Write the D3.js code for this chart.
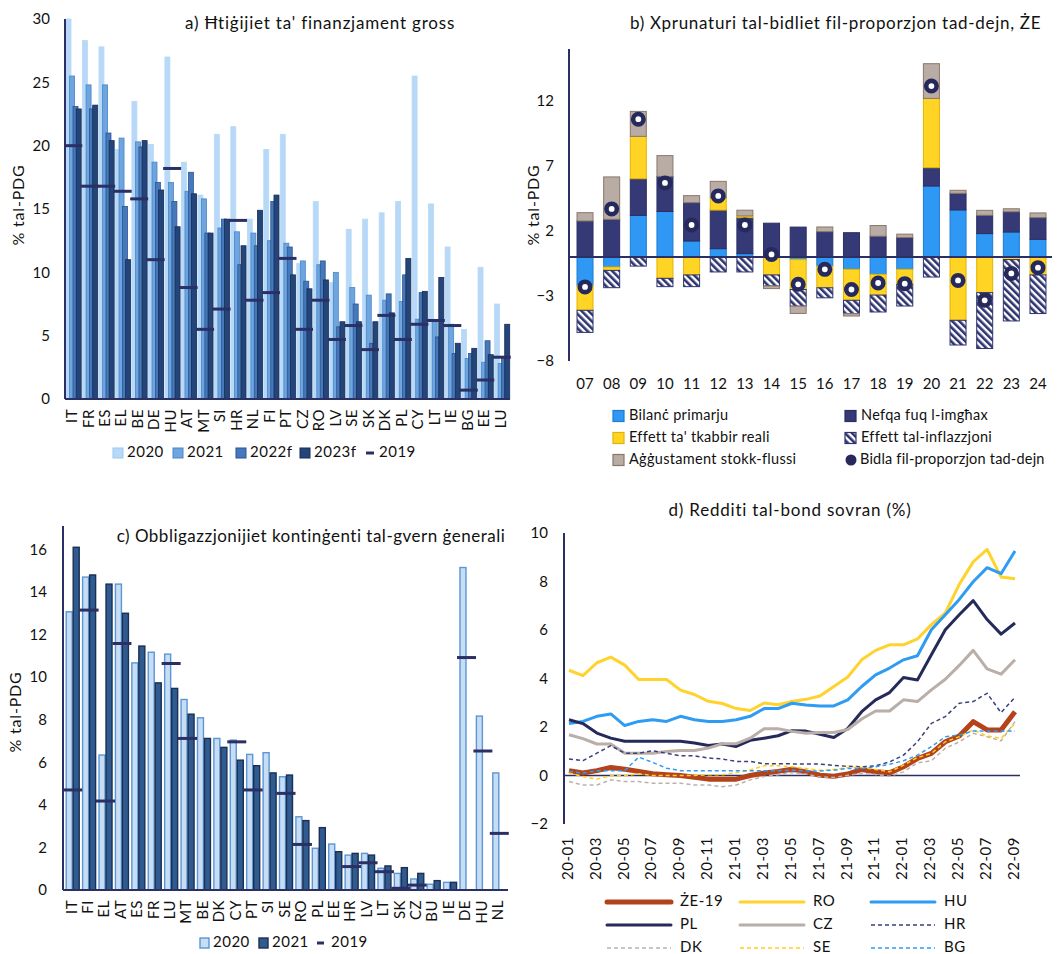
<!DOCTYPE html>
<html>
<head>
<meta charset="utf-8">
<script src="https://cdn.jsdelivr.net/npm/d3@7"></script>
<style>
body { margin: 0; background: #fff; }
svg { display: block; font-family: Lato, "Open Sans", sans-serif; }
</style>
</head>
<body>
<svg id="viz" width="1058" height="954"></svg>
<script>
// ---------- data: panel a (gross financing needs, % GDP) ----------
const aCountries = ['IT','FR','ES','EL','BE','DE','HU','AT','MT','SI','HR','NL','FI','PT','CZ','RO','LV','SE','SK','DK','PL','CY','LT','IE','BG','EE','LU']
const a2020  = [30.0,28.3,27.8,19.7,23.5,20.1,27.0,18.7,16.1,20.9,21.5,14.2,19.7,20.9,10.7,15.6,9.2,13.4,14.2,14.7,15.6,25.5,15.4,12.0,5.5,10.4,7.5]
const a2021  = [25.5,24.8,24.8,20.6,20.3,18.7,17.1,16.4,15.8,13.5,13.2,13.1,12.5,12.3,10.9,10.6,10.0,8.8,8.2,7.8,7.7,6.3,6.1,5.9,3.2,2.9,2.8]
const a2022f = [23.1,22.9,21.0,15.2,19.9,17.1,15.6,17.9,13.1,14.2,10.6,12.1,15.6,12.0,9.3,10.9,5.7,7.5,4.4,8.3,9.8,8.4,4.9,3.6,3.6,4.6,3.2]
const a2023f = [22.9,23.2,20.4,11.0,20.4,16.5,13.6,16.2,13.1,14.2,12.1,14.9,16.1,9.8,8.7,9.4,6.1,6.1,6.1,6.8,11.1,8.5,9.6,4.4,4.0,3.5,5.9]
const a2019  = [20.0,16.8,16.8,16.4,15.8,11.0,18.2,8.8,5.5,7.1,14.1,7.8,8.4,11.1,5.5,7.8,4.7,5.8,3.9,6.6,4.7,5.9,6.2,5.8,0.7,1.5,3.3]
const aTicks = [0,5,10,15,20,25,30]

// ---------- data: panel b (drivers of debt ratio change, EU) ----------
const bYears     = ['07','08','09','10','11','12','13','14','15','16','17','18','19','20','21','22','23','24']
const bPrimary   = [-2.2,-0.77,3.2,3.5,1.23,0.64,0.26,0,-0.2,-0.7,-0.95,-1.33,-0.95,5.46,3.62,1.8,1.92,1.36]
const bInterest  = [2.77,2.9,2.82,2.7,2.95,2.97,2.77,2.6,2.3,1.95,1.87,1.6,1.5,1.41,1.28,1.41,1.56,1.67]
const bGrowth    = [-1.9,-0.26,3.26,-1.64,-1.38,0.95,0.13,-1.38,-2.3,-1.67,-2.38,-1.6,-1.15,5.33,-4.87,-2.74,-0.2,-1.38]
const bInflation = [-1.7,-1.33,-0.7,-0.64,-0.9,-1.15,-1.15,-0.85,-1.28,-0.77,-1.03,-1.3,-1.67,-1.54,-1.9,-4.3,-4.72,-2.97]
const bSfa       = [0.64,3.26,1.92,1.6,0.54,1.26,0.44,-0.2,-0.56,0.36,-0.18,0.82,0.26,2.67,0.23,0.38,0.23,0.36]
const bChange    = [-2.3,3.7,10.6,5.7,2.46,4.7,2.46,0.2,-2.1,-0.95,-2.5,-2.0,-2.05,13.15,-1.8,-3.33,-1.26,-0.82]
const bTicks = [-8,-3,2,7,12]

// ---------- data: panel c (contingent liabilities, % GDP) ----------
const cCountries = ['IT','FI','EL','AT','ES','FR','LU','MT','BE','DK','CY','PT','SI','SE','RO','PL','EE','HR','LV','LT','SK','CZ','BU','IE','DE','HU','NL']
const c2020 = [13.07,14.7,6.34,14.37,10.67,11.17,11.08,8.95,8.09,7.12,7.04,6.37,6.45,5.32,3.44,1.96,2.16,1.64,1.72,1.02,0.78,0.52,0.27,0.36,15.15,8.17,5.5]
const c2021 = [16.1,14.8,14.37,13.0,11.46,9.73,9.47,8.26,7.12,6.7,6.1,5.84,5.5,5.4,3.26,2.93,1.8,1.72,1.64,1.13,1.05,0.78,0.44,0.36,null,null,null]
const c2019 = [4.7,13.15,4.18,11.58,null,null,10.64,7.12,null,null,6.96,4.7,null,4.54,2.14,null,null,1.1,1.28,0.86,0.08,0.23,null,null,10.92,6.53,2.66]
const cTicks = [0,2,4,6,8,10,12,14,16]

// ---------- data: panel d (sovereign bond yields, %) ----------
const dMonths = ['20-01','20-02','20-03','20-04','20-05','20-06','20-07','20-08','20-09','20-10','20-11','20-12',
                 '21-01','21-02','21-03','21-04','21-05','21-06','21-07','21-08','21-09','21-10','21-11','21-12',
                 '22-01','22-02','22-03','22-04','22-05','22-06','22-07','22-08','22-09']
const dEU = [0.2,0.1,0.2,0.33,0.26,0.17,0.07,0.03,0,-0.07,-0.15,-0.15,-0.15,0,0.1,0.17,0.26,0.15,0.01,-0.03,0.06,0.25,0.15,0.11,0.36,0.7,0.91,1.39,1.63,2.22,1.88,1.88,2.63]
const dRO = [4.34,4.12,4.65,4.88,4.55,3.96,3.96,3.96,3.52,3.34,3.06,2.97,2.76,2.68,2.99,2.92,3.05,3.14,3.28,3.67,4.06,4.77,5.16,5.39,5.39,5.63,6.22,6.7,7.88,8.81,9.32,8.19,8.11]
const dHU = [2.14,2.23,2.44,2.54,2.06,2.23,2.3,2.23,2.44,2.3,2.23,2.23,2.3,2.44,2.76,2.76,2.98,2.91,2.87,2.87,3.12,3.67,4.15,4.43,4.77,4.94,6.01,6.63,7.26,7.99,8.57,8.32,9.26]
const dPL = [2.3,2.14,1.75,1.54,1.41,1.41,1.41,1.41,1.41,1.34,1.24,1.3,1.2,1.45,1.54,1.64,1.85,1.83,1.7,1.57,1.94,2.63,3.12,3.42,4.04,3.94,4.98,6.01,6.63,7.21,6.43,5.83,6.29]
const dCZ = [1.68,1.52,1.3,1.3,0.92,0.92,0.92,0.99,1.03,1.03,1.13,1.31,1.31,1.54,1.93,1.93,1.82,1.74,1.77,1.77,1.9,2.33,2.66,2.66,3.12,3.05,3.53,3.97,4.54,5.16,4.4,4.18,4.77]
const dHR = [0.68,0.61,0.92,1.23,0.92,0.92,1.02,0.92,0.81,0.81,0.72,0.68,0.58,0.58,0.48,0.48,0.48,0.47,0.47,0.42,0.38,0.36,0.4,0.56,0.84,1.39,2.15,2.43,2.98,3.05,3.39,2.59,3.23]
const dDK = [-0.25,-0.39,-0.39,-0.18,-0.25,-0.25,-0.32,-0.32,-0.32,-0.39,-0.39,-0.46,-0.39,-0.18,-0.04,0.03,0.12,0.06,-0.06,-0.08,0.01,0.08,0.04,-0.03,0.15,0.52,0.61,1.12,1.39,1.74,1.6,1.43,2.22]
const dSE = [0.1,-0.04,-0.15,-0.01,-0.01,0.07,0,0,0,0,0.03,0.03,0.12,0.23,0.4,0.4,0.36,0.29,0.22,0.25,0.33,0.33,0.25,0.15,0.43,0.74,0.91,1.39,1.6,1.88,1.63,1.53,2.15]
const dBG = [0.17,0.1,0.2,0.2,0.2,0.76,0.54,0.3,0.2,0.2,0.2,0.2,0.2,0.2,0.2,0.2,0.22,0.19,0.19,0.22,0.29,0.29,0.36,0.46,0.61,0.84,1.19,1.6,1.67,1.83,1.83,1.83,1.83]
const dTicks = [-2,0,2,4,6,8,10]
const dTickMonths = dMonths.filter((m, i) => i % 2 == 0)

const NAVY = '#2b2f63'
const FS = 15
const LS = 0.5

var svg = d3.select('svg#viz')

// hatch pattern for the inflation effect
svg.append('defs').append('pattern')
    .attr('id', 'hatch')
    .attr('patternUnits', 'userSpaceOnUse')
    .attr('width', 5).attr('height', 5)
    .attr('patternTransform', 'rotate(-45)')
    .call(p => {
        p.append('rect').attr('width', 5).attr('height', 5).attr('fill', '#fff')
        p.append('rect').attr('width', 2.6).attr('height', 5).attr('fill', '#2e3470')
    })

let leftAxis = function(g, scale, x, ticks, pad) {
    g.append('g')
        .attr('transform', `translate(${x},0)`)
        .call(d3.axisLeft(scale).tickValues(ticks).tickSize(0).tickPadding(pad))
        .call(a => a.select('.domain').remove())
        .selectAll('text')
        .attr('font-size', FS).attr('font-family', 'Lato, sans-serif').attr('fill', '#111')
}

let title = function(x, y, txt, anchor, ls) {
    svg.append('text').attr('x', x).attr('y', y)
        .attr('text-anchor', anchor || 'middle').attr('dominant-baseline', 'middle')
        .attr('font-size', 17).attr('letter-spacing', ls == null ? 0.8 : ls).attr('fill', '#111').text(txt)
}

let yLabel = function(x, y, txt) {
    svg.append('text').attr('transform', `translate(${x},${y}) rotate(-90)`)
        .attr('text-anchor', 'middle').attr('dominant-baseline', 'middle')
        .attr('font-size', 16).attr('letter-spacing', 0.8).attr('fill', '#111').text(txt)
}

let label = function(g, x, y, txt, fs, ls) {
    g.append('text').attr('x', x).attr('y', y).attr('dominant-baseline', 'middle')
        .attr('font-size', fs || FS).attr('letter-spacing', ls == null ? LS : ls).attr('fill', '#111').text(txt)
}

// ================= panel a =================
{
    const x = d3.scaleBand().domain(aCountries).range([65, 510])
    const y = d3.scaleLinear().domain([0, 30]).range([399, 19])
    const g = svg.append('g')
    const series = [
        { key: '2020',  vals: a2020,  fill: '#b7d9f7', stroke: '#b7d9f7', off: 1.0 },
        { key: '2021',  vals: a2021,  fill: '#6ea5df', stroke: '#4a86c8', off: 4.6 },
        { key: '2022f', vals: a2022f, fill: '#4679bb', stroke: '#2b5590', off: 8.0 },
        { key: '2023f', vals: a2023f, fill: '#23457a', stroke: '#172d55', off: 11.2 }
    ]
    series.forEach(s => {
        g.append('g').selectAll('rect')
            .data(aCountries)
            .join('rect')
            .attr('x', (d) => x(d) + s.off)
            .attr('y', (d, i) => y(s.vals[i]))
            .attr('width', 5)
            .attr('height', (d, i) => y(0) - y(s.vals[i]))
            .attr('fill', s.fill)
            .attr('stroke', s.stroke)
            .attr('stroke-width', 0.8)
    })
    g.append('g').selectAll('line')
        .data(aCountries)
        .join('line')
        .attr('x1', d => x(d) + x.bandwidth() / 2 - 9)
        .attr('x2', d => x(d) + x.bandwidth() / 2 + 9)
        .attr('y1', (d, i) => y(a2019[i]))
        .attr('y2', (d, i) => y(a2019[i]))
        .attr('stroke', NAVY).attr('stroke-width', 3)

    g.append('line').attr('x1', 65).attr('x2', 65).attr('y1', y(30)).attr('y2', y(0)).attr('stroke', NAVY).attr('stroke-width', 2)
    g.append('line').attr('x1', 65).attr('x2', 510).attr('y1', y(0)).attr('y2', y(0)).attr('stroke', NAVY).attr('stroke-width', 2)
    leftAxis(g, y, 65, aTicks, 15)

    g.append('g').selectAll('text')
        .data(aCountries)
        .join('text')
        .attr('transform', d => `translate(${x(d) + x.bandwidth() / 2},409) rotate(-90)`)
        .attr('text-anchor', 'end').attr('dominant-baseline', 'middle')
        .attr('font-size', FS).attr('letter-spacing', LS).attr('fill', '#111')
        .text(d => d)

    title(320, 25, 'a) Ħtiġijiet ta\' finanzjament gross')
    yLabel(20, 205, '% tal-PDG')

    // legend
    const lx = [113, 173, 236, 300]
    series.forEach((s, i) => {
        g.append('rect').attr('x', lx[i]).attr('y', 448).attr('width', 10).attr('height', 10)
            .attr('fill', s.fill).attr('stroke', s.key == '2020' ? '#9cc9f0' : s.stroke)
        label(g, lx[i] + 14, 453, s.key)
    })
    g.append('line').attr('x1', 366).attr('x2', 374).attr('y1', 453).attr('y2', 453).attr('stroke', NAVY).attr('stroke-width', 3)
    label(g, 379, 453, '2019')
}

// ================= panel b =================
{
    const x = d3.scaleBand().domain(bYears).range([571.7, 1051.3])
    const y = d3.scaleLinear().domain([-8, 16]).range([361, 49])
    const g = svg.append('g')
    const comps = [
        { key: 'primary',   vals: bPrimary,   fill: '#2f98f4', stroke: '#1c7bd2', label: 'Bilanċ primarju' },
        { key: 'interest',  vals: bInterest,  fill: '#353a76', stroke: '#2a2e62', label: 'Nefqa fuq l-imgħax' },
        { key: 'growth',    vals: bGrowth,    fill: '#ffd425', stroke: '#e2b400', label: 'Effett ta\' tkabbir reali' },
        { key: 'inflation', vals: bInflation, fill: 'url(#hatch)', stroke: '#2e3470', label: 'Effett tal-inflazzjoni' },
        { key: 'sfa',       vals: bSfa,       fill: '#b8aca4', stroke: '#8a776b', label: 'Aġġustament stokk-flussi' }
    ]
    const table = bYears.map((yr, i) => {
        let row = { year: yr }
        comps.forEach(c => row[c.key] = c.vals[i])
        return row
    })
    const stack = d3.stack().keys(comps.map(c => c.key)).offset(d3.stackOffsetDiverging)(table)
    const bw = 16
    stack.forEach((layer, li) => {
        g.append('g').selectAll('rect')
            .data(layer)
            .join('rect')
            .attr('x', d => x(d.data.year) + (x.bandwidth() - bw) / 2)
            .attr('y', d => y(Math.max(d[0], d[1])))
            .attr('width', bw)
            .attr('height', d => Math.abs(y(d[0]) - y(d[1])))
            .attr('fill', comps[li].fill)
            .attr('stroke', d => d[0] == d[1] ? 'none' : comps[li].stroke)
            .attr('stroke-width', 1)
    })
    g.append('line').attr('x1', 569).attr('x2', 1052).attr('y1', y(0)).attr('y2', y(0)).attr('stroke', NAVY).attr('stroke-width', 2)
    g.append('line').attr('x1', 569).attr('x2', 569).attr('y1', y(16)).attr('y2', y(-8)).attr('stroke', NAVY).attr('stroke-width', 2)

    g.append('g').selectAll('circle')
        .data(bYears)
        .join('circle')
        .attr('cx', d => x(d) + x.bandwidth() / 2)
        .attr('cy', (d, i) => y(bChange[i]))
        .attr('r', 5.2)
        .attr('fill', '#fff')
        .attr('stroke', '#25295c').attr('stroke-width', 4.6)

    leftAxis(g, y, 569, bTicks, 15)
    g.append('g').selectAll('text')
        .data(bYears)
        .join('text')
        .attr('x', d => x(d) + x.bandwidth() / 2)
        .attr('y', 385)
        .attr('text-anchor', 'middle').attr('dominant-baseline', 'middle')
        .attr('font-size', FS).attr('fill', '#111')
        .text(d => d)

    title(630, 25, 'b) Xprunaturi tal-bidliet fil-proporzjon tad-dejn, ŻE', 'start', 0.7)
    yLabel(535, 205, '% tal-PDG')

    // legend
    const pos = [[613, 416], [845, 416], [613, 438], [845, 438], [613, 460]]
    comps.forEach((c, i) => {
        const [lx, ly] = pos[i]
        g.append('rect').attr('x', lx).attr('y', ly - 5.5).attr('width', 11).attr('height', 11)
            .attr('fill', c.fill).attr('stroke', c.stroke).attr('stroke-width', 1.2)
        label(g, lx + 16, ly, c.label, 14.5, 0.3)
    })
    g.append('circle').attr('cx', 851).attr('cy', 460).attr('r', 5.5).attr('fill', '#25295c')
    label(g, 860, 460, 'Bidla fil-proporzjon tad-dejn', 14.5, 0.2)
}

// ================= panel c =================
{
    const x = d3.scaleBand().domain(cCountries).range([64.5, 507.5])
    const y = d3.scaleLinear().domain([0, 17.1]).range([890, 526])
    const g = svg.append('g')
    const bw = 6
    g.append('g').selectAll('rect')
        .data(cCountries)
        .join('rect')
        .attr('x', d => x(d) + x.bandwidth() / 2 - bw - 0.5)
        .attr('y', (d, i) => y(c2020[i]))
        .attr('width', bw)
        .attr('height', (d, i) => y(0) - y(c2020[i]))
        .attr('fill', '#c7ddf3').attr('stroke', '#5b96d6').attr('stroke-width', 1.4)
    g.append('g').selectAll('rect')
        .data(cCountries.filter((d, i) => c2021[i] != null))
        .join('rect')
        .attr('x', d => x(d) + x.bandwidth() / 2 + 0.5)
        .attr('y', d => y(c2021[cCountries.indexOf(d)]))
        .attr('width', bw)
        .attr('height', d => y(0) - y(c2021[cCountries.indexOf(d)]))
        .attr('fill', '#2f5b90').attr('stroke', '#1b2f52').attr('stroke-width', 1.4)
    g.append('g').selectAll('line')
        .data(cCountries.filter((d, i) => c2019[i] != null))
        .join('line')
        .attr('x1', d => x(d) + x.bandwidth() / 2 - 9.5)
        .attr('x2', d => x(d) + x.bandwidth() / 2 + 9.5)
        .attr('y1', d => y(c2019[cCountries.indexOf(d)]))
        .attr('y2', d => y(c2019[cCountries.indexOf(d)]))
        .attr('stroke', NAVY).attr('stroke-width', 3)

    g.append('line').attr('x1', 63).attr('x2', 63).attr('y1', 526).attr('y2', y(0)).attr('stroke', NAVY).attr('stroke-width', 2)
    g.append('line').attr('x1', 63).attr('x2', 508).attr('y1', y(0)).attr('y2', y(0)).attr('stroke', NAVY).attr('stroke-width', 2)
    leftAxis(g, y, 63, cTicks, 16)

    g.append('g').selectAll('text')
        .data(cCountries)
        .join('text')
        .attr('transform', d => `translate(${x(d) + x.bandwidth() / 2},900) rotate(-90)`)
        .attr('text-anchor', 'end').attr('dominant-baseline', 'middle')
        .attr('font-size', FS).attr('letter-spacing', LS).attr('fill', '#111')
        .text(d => d)

    title(311, 538, 'c) Obbligazzjonijiet kontinġenti tal-gvern ġenerali', 'middle', 0.5)
    yLabel(17, 712, '% tal-PDG')

    g.append('rect').attr('x', 200).attr('y', 938).attr('width', 9).attr('height', 10).attr('fill', '#c7ddf3').attr('stroke', '#5b96d6').attr('stroke-width', 1.4)
    label(g, 213, 943, '2020')
    g.append('rect').attr('x', 259).attr('y', 938).attr('width', 9).attr('height', 10).attr('fill', '#2f5b90').attr('stroke', '#1b2f52').attr('stroke-width', 1.4)
    label(g, 272, 943, '2021')
    g.append('line').attr('x1', 317).attr('x2', 324).attr('y1', 943).attr('y2', 943).attr('stroke', NAVY).attr('stroke-width', 3)
    label(g, 331, 943, '2019')
}

// ================= panel d =================
{
    const x = d3.scalePoint().domain(dMonths).range([569, 1015])
    const y = d3.scaleLinear().domain([-2, 10]).range([824, 533])
    const g = svg.append('g')
    const lines = [
        { name: 'ŻE-19', vals: dEU, color: '#b4421a', w: 5,   dash: null },
        { name: 'RO',    vals: dRO, color: '#ffd22c', w: 3,   dash: null },
        { name: 'HU',    vals: dHU, color: '#2e9cf2', w: 3,   dash: null },
        { name: 'PL',    vals: dPL, color: '#262a5b', w: 3,   dash: null },
        { name: 'CZ',    vals: dCZ, color: '#b9aea8', w: 3,   dash: null },
        { name: 'HR',    vals: dHR, color: '#3a3f7c', w: 1.5, dash: '4,3' },
        { name: 'DK',    vals: dDK, color: '#bcb1aa', w: 1.5, dash: '4,3' },
        { name: 'SE',    vals: dSE, color: '#ffcf1e', w: 1.5, dash: '4,3' },
        { name: 'BG',    vals: dBG, color: '#2e9cf2', w: 1.5, dash: '4,3' }
    ]
    g.append('line').attr('x1', 564).attr('x2', 1020).attr('y1', y(0)).attr('y2', y(0)).attr('stroke', NAVY).attr('stroke-width', 1.5)
    g.append('line').attr('x1', 564).attr('x2', 564).attr('y1', y(10)).attr('y2', y(-2)).attr('stroke', NAVY).attr('stroke-width', 2)

    const line = d3.line().x((d, i) => x(dMonths[i])).y(d => y(d))
    lines.forEach(s => {
        g.append('path')
            .attr('d', line(s.vals))
            .attr('fill', 'none')
            .attr('stroke', s.color)
            .attr('stroke-width', s.w)
            .attr('stroke-dasharray', s.dash)
            .attr('stroke-linejoin', 'round')
    })
    leftAxis(g, y, 564, dTicks, 16)

    g.append('g').selectAll('text')
        .data(dTickMonths)
        .join('text')
        .attr('transform', d => `translate(${x(d)},837) rotate(-90)`)
        .attr('text-anchor', 'end').attr('dominant-baseline', 'middle')
        .attr('font-size', FS).attr('letter-spacing', LS).attr('fill', '#111')
        .text(d => d)

    title(790, 512, 'd) Redditi tal-bond sovran (%)')

    // legend, three columns
    const colX = [607, 740, 871]
    const rowY = [902, 925, 948]
    lines.forEach((s, i) => {
        const lx = colX[i % 3], ly = rowY[Math.floor(i / 3)]
        g.append('line').attr('x1', lx).attr('x2', lx + 64).attr('y1', ly).attr('y2', ly)
            .attr('stroke', s.color).attr('stroke-width', s.w).attr('stroke-dasharray', s.dash).attr('stroke-linecap', s.dash ? 'butt' : 'round')
        label(g, lx + 73, ly, s.name)
    })
}
</script>
</body>
</html>
